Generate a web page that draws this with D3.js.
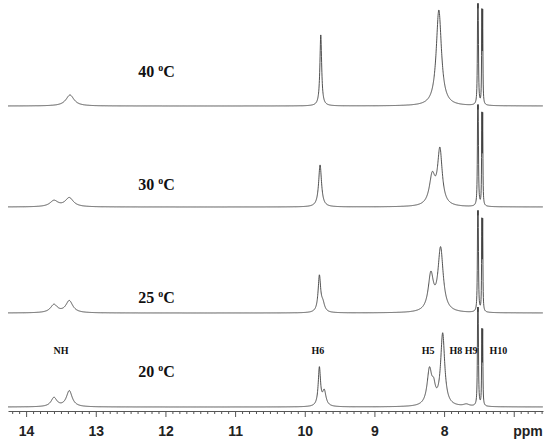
<!DOCTYPE html>
<html><head><meta charset="utf-8">
<script src="https://cdn.jsdelivr.net/npm/d3@7"></script>
<style>body{margin:0;background:#fff}</style>
</head><body><svg id="c" width="550" height="442"></svg>
<script>
// ---- data ----
const temperatures = ["40", "30", "25", "20"];
// peaks: [shift ppm, height (a.u.), half-width at half-height ppm]
const peaks40 = [[13.37, 11, 0.07], [9.77, 71, 0.015], [8.075, 96, 0.045],
  [7.518, 79, 0.005], [7.510, 79, 0.005], [7.458, 87, 0.004], [7.446, 87, 0.004]];
const peaks30 = [[13.60, 6, 0.07], [13.38, 9, 0.07], [9.78, 42, 0.025],
  [8.06, 55, 0.04], [8.17, 29, 0.05],
  [7.518, 79, 0.005], [7.510, 79, 0.005], [7.458, 85, 0.004], [7.446, 85, 0.004]];
const peaks25 = [[13.60, 8, 0.06], [13.38, 12, 0.06], [9.79, 36, 0.022], [9.74, 8, 0.03],
  [8.05, 63, 0.045], [8.19, 36, 0.045],
  [7.518, 79, 0.005], [7.510, 79, 0.005], [7.458, 85, 0.004], [7.446, 85, 0.004]];
const peaks20 = [[13.60, 9, 0.05], [13.38, 16, 0.05], [9.79, 38, 0.02], [9.72, 15, 0.03],
  [8.02, 72, 0.035], [8.21, 35, 0.04], [8.15, 14, 0.03], [7.68, 2, 0.05],
  [7.518, 77, 0.005], [7.510, 77, 0.005], [7.458, 70, 0.004], [7.446, 70, 0.004]];
const spectra = [peaks40, peaks30, peaks25, peaks20];
const majorTicks = [14, 13, 12, 11, 10, 9, 8, 7];
const tickLabels = ["14", "13", "12", "11", "10", "9", "8", ""];
const peakNames = ["NH", "H6", "H5", "H8 H9", "H10"];
const peakNamePpm = [13.50, 9.81, 8.23, 7.72, 7.22];

// ---- layout ----
const svg = d3.select("#c");
const x = d3.scaleLinear().domain([14.26, 6.58]).range([8, 543]);
const baseY = d3.scaleOrdinal().domain(temperatures).range([106, 207, 313, 407]);
const labelY = d3.scaleOrdinal().domain(temperatures).range([77, 190, 303, 377]);
const axisY = 411;

const grid = d3.range(14.26, 6.58, -0.002);
function lor(p, v) { const d = v - p[0]; return p[1] * p[2] * p[2] / (d * d + p[2] * p[2]); }

temperatures.forEach((t, i) => {
  const b = baseY(t);
  const y = d3.scaleLinear().domain([0, 100]).range([b, b - 100]);
  const pts = grid.map(v => [v, d3.sum(spectra[i], p => lor(p, v))]);
  svg.append("path")
    .attr("d", d3.line().x(d => x(d[0])).y(d => y(d[1]))(pts))
    .attr("fill", "none").attr("stroke", "#3c3c3c").attr("stroke-width", 0.9);

  const tx = svg.append("text").attr("x", x(12.39)).attr("y", labelY(t))
    .attr("font-family", "'Liberation Serif', 'Times New Roman', serif")
    .attr("font-weight", "bold").attr("font-size", 16).attr("fill", "#111");
  tx.append("tspan").text(t + " ");
  tx.append("tspan").text("o").attr("font-size", 10).attr("dy", -6);
  tx.append("tspan").text("C").attr("dy", 6);
});

// peak names
svg.selectAll(".pn").data(peakNames).enter().append("text")
  .attr("x", (d, i) => x(peakNamePpm[i])).attr("y", 354)
  .attr("text-anchor", "middle")
  .attr("font-family", "'Liberation Serif', 'Times New Roman', serif")
  .attr("font-weight", "bold").attr("font-size", 10).attr("fill", "#111")
  .text(d => d);

// axis
const minor = d3.range(142, 65, -1).map(v => v / 10).filter(v => v <= 14.26 && v >= 6.58 && Math.abs(v - Math.round(v)) > 1e-6);
const gMinor = svg.append("g").attr("transform", `translate(0,${axisY})`)
  .call(d3.axisBottom(x).tickValues(minor).tickSize(3).tickFormat("").tickSizeOuter(0));
gMinor.select(".domain").attr("stroke", "#555");
gMinor.selectAll("line").attr("stroke", "#555");
const gMajor = svg.append("g").attr("transform", `translate(0,${axisY})`)
  .call(d3.axisBottom(x).tickValues(majorTicks).tickSize(6).tickSizeOuter(0)
    .tickFormat((d, i) => tickLabels[i]));
gMajor.select(".domain").remove();
gMajor.selectAll("line").attr("stroke", "#555");
gMajor.selectAll("text").attr("font-family", "'Liberation Sans', Arial, sans-serif")
  .attr("font-weight", "bold").attr("font-size", 14).attr("fill", "#222").attr("dy", "1.15em");
svg.append("text").attr("x", 528).attr("y", axisY + 25).attr("text-anchor", "middle")
  .attr("font-family", "'Liberation Sans', Arial, sans-serif")
  .attr("font-weight", "bold").attr("font-size", 14).attr("fill", "#222").text("ppm");
</script></body></html>
